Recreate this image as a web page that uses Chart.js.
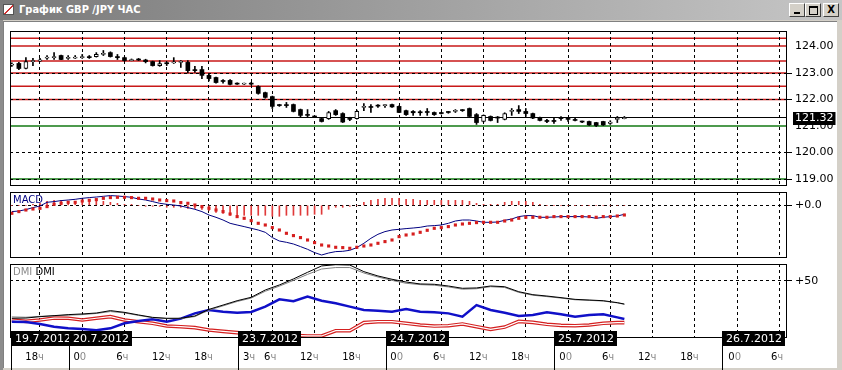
<!DOCTYPE html>
<html>
<head>
<meta charset="utf-8">
<title>График GBP /JPY ЧАС</title>
<script src="https://cdn.jsdelivr.net/npm/chart.js@4.4.1/dist/chart.umd.min.js"></script>
<style>
  html, body { margin: 0; padding: 0; }
  body { width: 842px; height: 370px; background: #d4d0c8; position: relative; overflow: hidden; }
  #titlebar { position: absolute; left: 0; top: 0; width: 842px; height: 20px;
    background: linear-gradient(to right, #7a7a7a, #c6c6c6); }
  #titlebar .icon { position: absolute; left: 3px; top: 4px; width: 11px; height: 11px; background: #fff;
    border: 1px solid #555; box-sizing: border-box;
    background-image: linear-gradient(135deg, transparent 45%, #d03030 45%, #d03030 58%, transparent 58%); }
  #titlebar .caption { position: absolute; left: 19px; top: 3px; color: #fff;
    font: bold 11px "DejaVu Sans Condensed", "DejaVu Sans", sans-serif; font-stretch: condensed; white-space: nowrap; }
  .btn { position: absolute; top: 3px; width: 14px; height: 12px; background: #d4d0c8;
    border: 1px solid; border-color: #fff #404040 #404040 #fff; box-sizing: content-box; }
  .g-min { position: absolute; left: 4px; top: 8px; width: 6px; height: 2px; background: #000; }
  .g-max { position: absolute; left: 3px; top: 2px; width: 7px; height: 6px; border: 1px solid #000; border-top-width: 2px; }
  .g-x { position: absolute; left: 0; top: 0; width: 14px; line-height: 12px; text-align: center;
    font: bold 10px "DejaVu Sans", sans-serif; color: #000; }
  #frame { position: absolute; left: 0; top: 20px; width: 3px; height: 350px; background: #8c8c8c; }
  #client { position: absolute; left: 3px; top: 21px; width: 833px; height: 346px; background: #fff;
    border-top: 1px solid #808080; border-left: 1px solid #808080; }
  canvas { position: absolute; left: 10px; }
</style>
</head>
<body>
<div id="titlebar">
  <div class="icon"></div>
  <div class="caption">График GBP /JPY ЧАС</div>
  <div class="btn" style="left:789px"><span class="g-min"></span></div>
  <div class="btn" style="left:805px"><span class="g-max"></span></div>
  <div class="btn" style="left:823px"><span class="g-x">X</span></div>
</div>
<div id="frame"></div>
<div id="client"></div>
<canvas id="priceChart" width="832" height="155" style="top:31px"></canvas>
<canvas id="macdChart" width="832" height="66" style="top:192px"></canvas>
<canvas id="dmiChart" width="832" height="106" style="top:264px"></canvas>

<script>
// 시간 단위: 1 = 1시간, 0 = 19.7 18ч. 첫 봉은 -4 (19.7 14ч)
var FIRST_HOUR = -4;
var X_MIN = -4.26;
var X_MAX = 106.1;

// 캔들 데이터 (GBP/JPY, 1시간봉)
var opens = [
  123.30, 123.36, 123.17, 123.43, 123.45, 123.56, 123.58, 123.66, 123.55, 123.56,
  123.58, 123.60, 123.62, 123.70, 123.77, 123.62, 123.58, 123.47, 123.50, 123.49,
  123.43, 123.28, 123.36, 123.38, 123.40, 123.40, 123.09, 123.13, 122.91, 122.83,
  122.68, 122.72, 122.60, 122.58, 122.60, 122.49, 122.26, 122.11, 121.77, 121.80,
  121.81, 121.62, 121.40, 121.36, 121.28, 121.28, 121.58, 121.47, 121.25, 121.28,
  121.70, 121.70, 121.77, 121.77, 121.81, 121.74, 121.58, 121.55, 121.50, 121.51,
  121.51, 121.47, 121.51, 121.55, 121.58, 121.66, 121.43, 121.17, 121.36, 121.30,
  121.25, 121.55, 121.62, 121.55, 121.47, 121.32, 121.21, 121.21, 121.30, 121.25,
  121.21, 121.17, 121.17, 121.13, 121.17, 121.10, 121.25, 121.28
];
var highs = [
  123.38, 123.40, 123.58, 123.55, 123.55, 123.66, 123.77, 123.68, 123.66, 123.66,
  123.70, 123.66, 123.77, 123.85, 123.80, 123.70, 123.60, 123.53, 123.55, 123.52,
  123.45, 123.47, 123.42, 123.58, 123.47, 123.47, 123.25, 123.25, 122.95, 122.85,
  122.75, 122.75, 122.63, 122.62, 122.65, 122.52, 122.28, 122.13, 121.82, 121.89,
  121.83, 121.64, 121.62, 121.38, 121.30, 121.55, 121.62, 121.50, 121.33, 121.60,
  121.85, 121.81, 121.81, 121.81, 121.83, 121.76, 121.60, 121.58, 121.58, 121.66,
  121.53, 121.52, 121.55, 121.62, 121.62, 121.68, 121.47, 121.42, 121.38, 121.36,
  121.50, 121.66, 121.77, 121.66, 121.49, 121.34, 121.25, 121.32, 121.36, 121.32,
  121.30, 121.19, 121.19, 121.14, 121.18, 121.20, 121.36, 121.36
];
var lows = [
  123.25, 123.13, 123.15, 123.28, 123.44, 123.51, 123.51, 123.50, 123.51, 123.55,
  123.55, 123.55, 123.60, 123.66, 123.60, 123.51, 123.45, 123.46, 123.47, 123.38,
  123.26, 123.25, 123.28, 123.36, 123.21, 123.00, 123.02, 122.79, 122.70, 122.62,
  122.62, 122.55, 122.57, 122.57, 122.55, 122.20, 122.05, 121.66, 121.74, 121.70,
  121.53, 121.32, 121.32, 121.32, 121.15, 121.25, 121.40, 121.13, 121.20, 121.26,
  121.58, 121.51, 121.70, 121.70, 121.70, 121.50, 121.40, 121.40, 121.40, 121.40,
  121.40, 121.45, 121.48, 121.51, 121.55, 121.34, 121.06, 121.15, 121.19, 121.13,
  121.23, 121.40, 121.47, 121.36, 121.28, 121.19, 121.13, 121.10, 121.21, 121.17,
  121.19, 121.13, 121.02, 120.98, 121.02, 121.06, 121.13, 121.27
];
var closes = [
  123.33, 123.17, 123.43, 123.45, 123.50, 123.58, 123.60, 123.51, 123.56, 123.58,
  123.60, 123.58, 123.70, 123.74, 123.62, 123.58, 123.47, 123.50, 123.49, 123.43,
  123.28, 123.36, 123.35, 123.40, 123.43, 123.09, 123.09, 122.91, 122.79, 122.64,
  122.68, 122.57, 122.58, 122.60, 122.58, 122.23, 122.08, 121.74, 121.77, 121.77,
  121.55, 121.40, 121.40, 121.34, 121.17, 121.51, 121.43, 121.15, 121.25, 121.55,
  121.74, 121.70, 121.75, 121.79, 121.72, 121.51, 121.43, 121.50, 121.50, 121.51,
  121.43, 121.47, 121.51, 121.58, 121.58, 121.36, 121.13, 121.40, 121.21, 121.30,
  121.47, 121.58, 121.55, 121.47, 121.30, 121.21, 121.17, 121.17, 121.28, 121.25,
  121.21, 121.15, 121.04, 121.02, 121.04, 121.15, 121.28, 121.32
];

// 수평 레벨선
var redLevels = [124.31, 124.02, 123.45, 123.0, 122.5, 122.0];
var greenLevels = [121.0, 119.0];
var priceTicks = [119, 120, 121, 122, 123, 124];
var priceTickLabels = ["119.00", "120.00", "121.00", "122.00", "123.00", "124.00"];
var hiddenPriceGrid = [121, 124];

// MACD (봉마다 한 값)
var macdLine = [
  -0.063, -0.057, -0.043, -0.023, -0.007, 0.03, 0.037, 0.047, 0.053, 0.06,
  0.07, 0.077, 0.083, 0.09, 0.097, 0.093, 0.087, 0.08, 0.063, 0.053,
  0.037, 0.02, 0.01, 0.003, -0.007, -0.023, -0.04, -0.063, -0.097, -0.12,
  -0.147, -0.18, -0.197, -0.213, -0.23, -0.247, -0.27, -0.323, -0.357, -0.37,
  -0.387, -0.413, -0.44, -0.473, -0.497, -0.477, -0.463, -0.46, -0.45, -0.423,
  -0.38, -0.33, -0.29, -0.263, -0.247, -0.24, -0.233, -0.227, -0.22, -0.207,
  -0.203, -0.197, -0.18, -0.157, -0.147, -0.147, -0.157, -0.17, -0.17, -0.167,
  -0.15, -0.137, -0.113, -0.103, -0.103, -0.12, -0.12, -0.117, -0.113, -0.113,
  -0.113, -0.113, -0.117, -0.13, -0.12, -0.113, -0.107, -0.09
];
var macdSignal = [
  -0.08, -0.063, -0.047, -0.037, -0.03, -0.013, 0.01, 0.02, 0.03, 0.03,
  0.043, 0.05, 0.057, 0.07, 0.077, 0.08, 0.08, 0.077, 0.07, 0.07,
  0.063, 0.053, 0.047, 0.043, 0.027, 0.02, 0.003, -0.013, -0.03, -0.047,
  -0.063, -0.087, -0.113, -0.13, -0.153, -0.18, -0.197, -0.223, -0.247, -0.28,
  -0.303, -0.323, -0.347, -0.373, -0.397, -0.407, -0.42, -0.423, -0.43, -0.42,
  -0.407, -0.397, -0.38, -0.363, -0.347, -0.313, -0.297, -0.287, -0.27, -0.25,
  -0.23, -0.223, -0.213, -0.197, -0.187, -0.18, -0.173, -0.17, -0.17, -0.17,
  -0.157, -0.147, -0.13, -0.12, -0.12, -0.12, -0.12, -0.113, -0.113, -0.113,
  -0.113, -0.113, -0.113, -0.12, -0.113, -0.113, -0.107, -0.097
];
var macdHist = [
  0, 0, 0, 0.01, 0.02, 0.04, 0.05, 0.05, 0.04, 0.04,
  0.04, 0.05, 0.05, 0.04, 0.03, 0.02, 0.01, 0.01, 0, -0.01,
  -0.01, -0.01, -0.02, -0.02, -0.02, -0.03, -0.03, -0.04, -0.05, -0.07,
  -0.08, -0.1, -0.1, -0.1, -0.1, -0.1, -0.1, -0.11, -0.11, -0.1,
  -0.1, -0.1, -0.1, -0.09, -0.09, -0.04, -0.02, -0.02, -0.01, 0,
  0.03, 0.05, 0.06, 0.07, 0.07, 0.07, 0.06, 0.06, 0.05, 0.05,
  0.05, 0.05, 0.05, 0.05, 0.05, 0.04, 0.02, 0.01, 0.01, 0.01,
  0.03, 0.04, 0.04, 0.04, 0.03, 0.01, 0, 0, 0, 0,
  0, 0, 0, 0, 0, 0, 0, 0
];
var macdTicks = [0];
var macdTickLabels = ["+0.0"];

// DMI (2시간 간격으로 읽은 값)
var dmiHours = [
  -4, -2, 0, 2, 4, 6, 8, 10, 12, 14, 16, 18, 20, 22, 24, 26, 28, 30, 32, 34,
  36, 38, 40, 42, 44, 46, 48, 50, 52, 54, 56, 58, 60, 62, 64, 66, 68, 70, 72, 74,
  76, 78, 80, 82, 83
];
var adxMain = [
  17.3, 17.5, 18.7, 19.6, 20.5, 21.1, 21.9, 24.0, 22.5, 20.2,
  18.1, 17.3, 17.3, 19.3, 25.1, 28.9, 32.7, 35.7, 42.1, 46.5,
  51.8, 57.6, 63.2, 64.3, 64.0, 58.2, 54.4, 51.5, 49.1, 47.4,
  47.1, 45.6, 43.6, 43.9, 45.6, 45.0, 40.6, 38.0, 36.8, 35.4,
  33.9, 33.3, 32.7, 31.0, 29.8
];
var adxSecond = [
  18.5, 18.2, 19.0, 19.5, 20.0, 20.5, 21.5, 23.2, 22.0, 19.8,
  17.8, 17.0, 17.0, 18.8, 24.5, 28.2, 32.0, 35.0, 41.0, 45.5,
  50.5, 55.8, 60.5, 61.8, 61.8, 57.0, 53.5, 50.5, 48.0, 46.8,
  46.3, 44.8, 42.8, 43.2, 45.0, 44.3, 40.0, 37.5, 36.3, 35.0,
  33.5, 33.0, 32.4, 30.8, 29.5
];
var plusDI = [
  14.3, 14.0, 12.3, 9.9, 8.5, 7.9, 6.7, 8.5, 12.9, 14.9,
  16.4, 14.3, 17.0, 21.6, 24.6, 23.1, 22.2, 22.8, 27.5, 33.9,
  32.2, 36.3, 32.7, 30.4, 27.5, 24.6, 24.0, 23.1, 25.4, 23.1,
  22.5, 21.6, 18.7, 28.9, 24.6, 22.2, 19.3, 20.2, 22.5, 20.8,
  18.7, 20.2, 20.8, 18.1, 16.7
];
var minusDI = [
  15.8, 14.6, 15.8, 17.5, 17.3, 15.8, 17.3, 18.7, 15.8, 14.3,
  12.9, 10.5, 9.9, 9.1, 7.0, 5.8, 4.7, 3.5, 2.9, 2.6,
  2.3, 1.8, 1.8, 6.4, 6.4, 13.5, 14.3, 14.3, 12.9, 11.4,
  10.5, 10.8, 12.3, 9.9, 7.6, 9.6, 14.6, 13.7, 12.0, 11.1,
  10.8, 11.4, 12.9, 13.5, 13.5
];
var dmiTicks = [50];
var dmiTickLabels = ["+50"];

// 시간축 눈금과 날짜
var gridHours = [0, 6, 12, 18, 24, 30, 33, 39, 45, 51, 57, 63, 69, 75, 81, 87, 93, 99, 105];
var hourLabels = ["18ч", "00", "6ч", "12ч", "18ч", "3ч", "6ч", "12ч", "18ч", "00",
  "6ч", "12ч", "18ч", "00", "6ч", "12ч", "18ч", "00", "6ч"];
var dayStarts = [-4.12, 4.1, 28.1, 49.1, 73.0, 96.9];
var dayLabels = ["19.7.2012", "20.7.2012", "23.7.2012", "24.7.2012", "25.7.2012", "26.7.2012"];

Chart.defaults.font.family = '"DejaVu Sans", sans-serif';
Chart.defaults.font.size = 11;
Chart.defaults.color = "#000";

function hourOf(i) {
  return FIRST_HOUR + i;
}

// 공통 x축 (세로 점선 격자)
function timeAxis(bottomHeight) {
  return {
    type: "linear",
    min: X_MIN,
    max: X_MAX,
    bounds: "data",
    offset: false,
    afterBuildTicks: function (scale) {
      scale.ticks = gridHours.map((h) => ({ value: h }));
    },
    afterFit: function (scale) {
      scale.height = bottomHeight;
    },
    ticks: { display: false },
    grid: { color: "#000", drawTicks: false, offset: false },
    border: { display: false, dash: [3, 3] },
  };
}

// 공통 y축 (오른쪽)
function valueAxis(min, max, ticks, labels, hidden) {
  return {
    type: "linear",
    position: "right",
    min: min,
    max: max,
    bounds: "data",
    beginAtZero: false,
    afterBuildTicks: function (scale) {
      scale.ticks = ticks.map((v) => ({ value: v }));
    },
    afterFit: function (scale) {
      scale.width = 55;
      scale.paddingTop = 0;
      scale.paddingBottom = 0;
    },
    ticks: {
      padding: 3,
      font: { size: 11 },
      callback: function (value, index) {
        return labels[index];
      },
    },
    grid: {
      tickLength: 5,
      color: function (ctx) {
        if (hidden && ctx.tick && hidden.indexOf(ctx.tick.value) >= 0) return "rgba(0,0,0,0)";
        return "#000";
      },
    },
    border: { display: false, dash: [3, 3] },
  };
}

// 패널 테두리
var paneBorder = {
  id: "paneBorder",
  afterDraw: function (chart) {
    var a = chart.chartArea;
    var ctx = chart.ctx;
    ctx.save();
    ctx.strokeStyle = "#000";
    ctx.lineWidth = 1;
    ctx.strokeRect(a.left + 0.5, a.top + 0.5, a.right - a.left - 1, a.bottom - a.top - 1);
    ctx.restore();
  },
};

// 패널 제목 (왼쪽 위)
function paneTitle(parts) {
  return {
    id: "paneTitle",
    afterDraw: function (chart) {
      var ctx = chart.ctx;
      var a = chart.chartArea;
      var x = a.left + 3;
      ctx.save();
      ctx.font = '10px "DejaVu Sans", sans-serif';
      ctx.textBaseline = "middle";
      parts.forEach((p) => {
        ctx.fillStyle = p.color;
        ctx.fillText(p.text, x, a.top + 8.5);
        x += ctx.measureText(p.text + " ").width;
      });
      ctx.restore();
    },
  };
}

// 가격 레벨선 (격자 아래에 그림)
var levelLines = {
  id: "levelLines",
  beforeDraw: function (chart) {
    var ctx = chart.ctx;
    var a = chart.chartArea;
    var y = chart.scales.y;
    function hline(v, color, w) {
      var py = y.getPixelForValue(v);
      ctx.strokeStyle = color;
      ctx.lineWidth = w;
      ctx.beginPath();
      ctx.moveTo(a.left, py);
      ctx.lineTo(a.right, py);
      ctx.stroke();
    }
    ctx.save();
    redLevels.forEach((v) => hline(v, "#c81818", 1.5));
    greenLevels.forEach((v) => hline(v, "#127812", 1.5));
    hline(closes[closes.length - 1], "#000", 1);
    ctx.restore();
  },
};

// 현재가 라벨
var lastPriceTag = {
  id: "lastPriceTag",
  afterDraw: function (chart) {
    var ctx = chart.ctx;
    var a = chart.chartArea;
    var last = closes[closes.length - 1];
    var py = Math.round(chart.scales.y.getPixelForValue(last));
    ctx.save();
    ctx.font = '11px "DejaVu Sans", sans-serif';
    var label = last.toFixed(2);
    var w = ctx.measureText(label).width;
    ctx.fillStyle = "#000";
    ctx.fillRect(a.right + 6, py - 6, w + 4, 13);
    ctx.fillStyle = "#fff";
    ctx.textBaseline = "middle";
    ctx.fillText(label, a.right + 8, py + 0.5);
    ctx.restore();
  },
};

// 아래 시간축: 시간 라벨, 날짜 박스
var bottomAxis = {
  id: "bottomAxis",
  afterDraw: function (chart) {
    var ctx = chart.ctx;
    var a = chart.chartArea;
    var xs = chart.scales.x;
    var base = a.bottom;
    ctx.save();
    ctx.font = '10px "DejaVu Sans", sans-serif';
    ctx.textBaseline = "middle";
    ctx.textAlign = "left";
    gridHours.forEach((h, i) => {
      var label = hourLabels[i];
      var head = label.slice(0, -1);
      var tail = label.slice(-1);
      var right = xs.getPixelForValue(h) + 4;
      var tw = ctx.measureText(tail).width;
      var hw = ctx.measureText(head).width;
      ctx.fillStyle = "#000";
      ctx.fillText(head, right - tw - hw, base + 19);
      ctx.fillStyle = "#8a8a8a";
      ctx.fillText(tail, right - tw, base + 19);
    });

    ctx.font = '11px "DejaVu Sans", sans-serif';
    dayStarts.forEach((h, i) => {
      var x = Math.round(xs.getPixelForValue(h));
      var w = ctx.measureText(dayLabels[i]).width + 7;
      ctx.strokeStyle = "#000";
      ctx.lineWidth = 1;
      ctx.beginPath();
      ctx.moveTo(x + 0.5, base - 7);
      ctx.lineTo(x + 0.5, chart.height);
      ctx.stroke();
      ctx.fillStyle = "#000";
      ctx.fillRect(x, base - 7, w, 15);
      ctx.fillStyle = "#fff";
      ctx.fillText(dayLabels[i], x + 4, base + 1);
    });
    ctx.restore();
  },
};

var baseOptions = {
  responsive: false,
  animation: false,
  events: [],
  layout: { padding: 0, autoPadding: false },
  plugins: { legend: { display: false }, tooltip: { enabled: false } },
};

// 가격 차트 (캔들)
var bodies = opens.map((o, i) => ({ x: hourOf(i), y: [o, closes[i]] }));
var wicks = lows.map((l, i) => ({ x: hourOf(i), y: [l, highs[i]] }));

new Chart(document.getElementById("priceChart").getContext("2d"), {
  type: "bar",
  data: {
    datasets: [
      {
        label: "body",
        data: bodies,
        order: 1,
        grouped: false,
        barThickness: 4,
        minBarLength: 1,
        borderSkipped: false,
        backgroundColor: (ctx) => (closes[ctx.dataIndex] > opens[ctx.dataIndex] ? "#fff" : "#000"),
        borderColor: "#000",
        borderWidth: (ctx) => (closes[ctx.dataIndex] > opens[ctx.dataIndex] ? 1 : 0),
      },
      {
        label: "wick",
        data: wicks,
        order: 2,
        grouped: false,
        barThickness: 1,
        borderSkipped: false,
        backgroundColor: "#000",
      },
    ],
  },
  options: Object.assign({}, baseOptions, {
    scales: {
      x: timeAxis(0),
      y: valueAxis(118.736, 124.585, priceTicks, priceTickLabels, hiddenPriceGrid),
    },
  }),
  plugins: [levelLines, paneBorder, lastPriceTag],
});

// MACD 차트
new Chart(document.getElementById("macdChart").getContext("2d"), {
  type: "bar",
  data: {
    datasets: [
      {
        type: "line",
        label: "signal",
        data: macdSignal.map((v, i) => ({ x: hourOf(i), y: v })),
        order: 0,
        showLine: false,
        pointStyle: "rect",
        pointRadius: 2.2,
        pointBorderWidth: 0,
        pointBackgroundColor: "#d61e1e",
      },
      {
        type: "line",
        label: "MACD",
        data: macdLine.map((v, i) => ({ x: hourOf(i), y: v })),
        order: 1,
        borderColor: "#000080",
        borderWidth: 1,
        pointRadius: 0,
        tension: 0,
      },
      {
        type: "bar",
        label: "hist",
        data: macdHist.map((v, i) => ({ x: hourOf(i), y: v })),
        order: 2,
        grouped: false,
        barThickness: 1,
        backgroundColor: "#e03a3a",
      },
    ],
  },
  options: Object.assign({}, baseOptions, {
    scales: {
      x: timeAxis(0),
      y: valueAxis(-0.527, 0.133, macdTicks, macdTickLabels, null),
    },
  }),
  plugins: [paneBorder, paneTitle([{ text: "MACD", color: "#000080" }])],
});

// DMI 차트
function dmiData(values) {
  return values.map((v, i) => ({ x: dmiHours[i], y: v }));
}

new Chart(document.getElementById("dmiChart").getContext("2d"), {
  type: "line",
  data: {
    datasets: [
      { label: "ADX", data: dmiData(adxMain), borderColor: "#000", borderWidth: 1, order: 0 },
      { label: "ADX2", data: dmiData(adxSecond), borderColor: "#808080", borderWidth: 1, order: 1 },
      { label: "+DI", data: dmiData(plusDI), borderColor: "#1010c8", borderWidth: 2.5, order: 2 },
      { label: "-DI gap", data: dmiData(minusDI), borderColor: "#fff", borderWidth: 1.2, order: 3 },
      { label: "-DI", data: dmiData(minusDI), borderColor: "#d42020", borderWidth: 3.6, order: 4 },
    ],
  },
  options: Object.assign({}, baseOptions, {
    elements: { point: { radius: 0 }, line: { tension: 0 } },
    scales: {
      x: timeAxis(32),
      y: valueAxis(0, 64.9, dmiTicks, dmiTickLabels, null),
    },
  }),
  plugins: [
    paneBorder,
    paneTitle([
      { text: "DMI", color: "#8a8a8a" },
      { text: "DMI", color: "#000" },
    ]),
    bottomAxis,
  ],
});
</script>
</body>
</html>
